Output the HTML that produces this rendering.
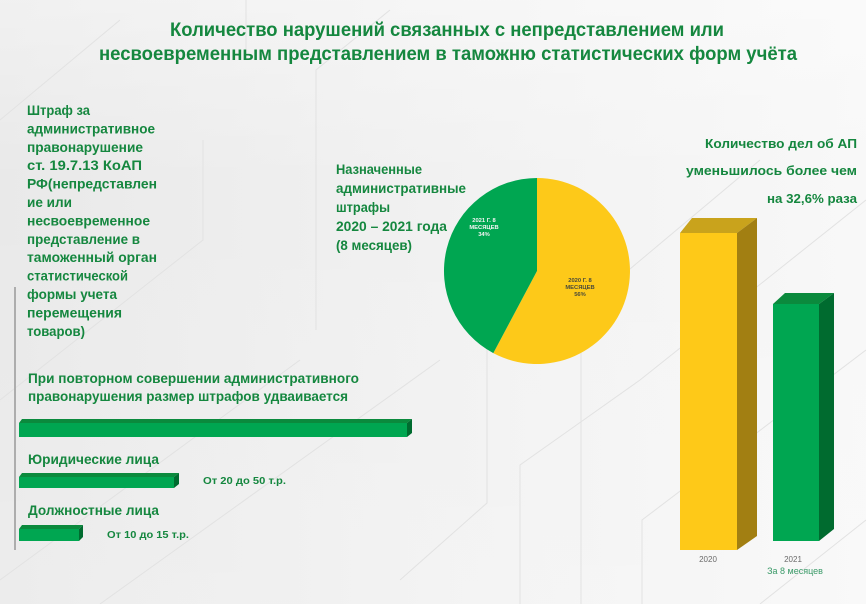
<!DOCTYPE html>
<html>
<head>
<meta charset="utf-8">
<style>
  html,body{margin:0;padding:0;}
  body{width:866px;height:604px;overflow:hidden;}
  svg{display:block;}
  text{font-family:"Liberation Sans","Noto Sans CJK SC",sans-serif;font-weight:bold;}
</style>
</head>
<body>
<svg width="866" height="604" viewBox="0 0 866 604" xmlns="http://www.w3.org/2000/svg">
  <defs>
    <linearGradient id="bg" x1="0" y1="0" x2="1" y2="0">
      <stop offset="0" stop-color="#e9e9e9"/>
      <stop offset="0.5" stop-color="#f1f1f1"/>
      <stop offset="1" stop-color="#f8f8f8"/>
    </linearGradient>
    <linearGradient id="bgv" x1="0" y1="0" x2="0" y2="1">
      <stop offset="0" stop-color="#ffffff" stop-opacity="0.35"/>
      <stop offset="0.3" stop-color="#ffffff" stop-opacity="0"/>
      <stop offset="1" stop-color="#ffffff" stop-opacity="0.15"/>
    </linearGradient>
  </defs>
  <rect x="0" y="0" width="866" height="604" fill="url(#bg)"/>
  <rect x="0" y="0" width="866" height="604" fill="url(#bgv)"/>

  <!-- faint background lines -->
  <g stroke="#e2e2e2" stroke-width="1" fill="none">
    <polyline points="487,340 487,503 400,580"/>
    <polyline points="520,604 520,465 640,380 866,200"/>
    <polyline points="581,604 581,310 760,160"/>
    <polyline points="642,604 642,520 866,350"/>
    <polyline points="203,140 203,240 0,400"/>
    <polyline points="246,60 246,0"/>
    <line x1="0" y1="580" x2="300" y2="360"/>
    <line x1="100" y1="604" x2="440" y2="360"/>
    <polyline points="316,330 316,70 390,10"/>
    <line x1="0" y1="120" x2="120" y2="20"/>
    <line x1="760" y1="604" x2="866" y2="520"/>
  </g>

  <!-- Title -->
  <g fill="#15873f" font-size="19">
    <text x="170" y="36" textLength="554" lengthAdjust="spacingAndGlyphs">Количество нарушений связанных с непредставлением или</text>
    <text x="99" y="60" textLength="698" lengthAdjust="spacingAndGlyphs">несвоевременным представлением в таможню статистических форм учёта</text>
  </g>

  <!-- Left vertical line -->
  <line x1="15" y1="287" x2="15" y2="550" stroke="#adadad" stroke-width="2"/>

  <!-- Left text block -->
  <g fill="#15873f" font-size="14">
    <text x="27" y="115" textLength="63" lengthAdjust="spacingAndGlyphs">Штраф за</text>
    <text x="27" y="133.4" textLength="128" lengthAdjust="spacingAndGlyphs">административное</text>
    <text x="27" y="151.8" textLength="116" lengthAdjust="spacingAndGlyphs">правонарушение</text>
    <text x="27" y="170.2" textLength="115" lengthAdjust="spacingAndGlyphs">ст. 19.7.13 КоАП</text>
    <text x="27" y="188.6" textLength="130" lengthAdjust="spacingAndGlyphs">РФ(непредставлен</text>
    <text x="27" y="207" textLength="45" lengthAdjust="spacingAndGlyphs">ие или</text>
    <text x="27" y="225.4" textLength="123" lengthAdjust="spacingAndGlyphs">несвоевременное</text>
    <text x="27" y="243.8" textLength="113" lengthAdjust="spacingAndGlyphs">представление в</text>
    <text x="27" y="262.2" textLength="130" lengthAdjust="spacingAndGlyphs">таможенный орган</text>
    <text x="27" y="280.6" textLength="101" lengthAdjust="spacingAndGlyphs">статистической</text>
    <text x="27" y="299" textLength="90" lengthAdjust="spacingAndGlyphs">формы учета</text>
    <text x="27" y="317.4" textLength="95" lengthAdjust="spacingAndGlyphs">перемещения</text>
    <text x="27" y="335.8" textLength="58" lengthAdjust="spacingAndGlyphs">товаров)</text>
  </g>

  <!-- Pie title -->
  <g fill="#15873f" font-size="13.5">
    <text x="336" y="174" textLength="86" lengthAdjust="spacingAndGlyphs">Назначенные</text>
    <text x="336" y="193" textLength="130" lengthAdjust="spacingAndGlyphs">административные</text>
    <text x="336" y="212" textLength="54" lengthAdjust="spacingAndGlyphs">штрафы</text>
    <text x="336" y="231" textLength="111" lengthAdjust="spacingAndGlyphs">2020 – 2021 года</text>
    <text x="336" y="250" textLength="76" lengthAdjust="spacingAndGlyphs">(8 месяцев)</text>
  </g>

  <!-- Pie -->
  <path d="M537,271 L537,178 A93,93 0 1,1 493.3,353.1 Z" fill="#fdc919"/>
  <path d="M537,271 L493.3,353.1 A93,93 0 0,1 537,178 Z" fill="#00a651"/>
  <g font-size="5.8" text-anchor="middle" fill="#f4f4f4">
    <text x="484" y="222">2021 Г. 8</text>
    <text x="484" y="229">МЕСЯЦЕВ</text>
    <text x="484" y="236">34%</text>
  </g>
  <g font-size="5.8" text-anchor="middle" fill="#4a4a3a">
    <text x="580" y="282">2020 Г. 8</text>
    <text x="580" y="289">МЕСЯЦЕВ</text>
    <text x="580" y="296">56%</text>
  </g>

  <!-- Right text -->
  <g fill="#15873f" font-size="13" text-anchor="end">
    <text x="857" y="148" textLength="152" lengthAdjust="spacingAndGlyphs">Количество дел  об АП</text>
    <text x="857" y="175" textLength="171" lengthAdjust="spacingAndGlyphs">уменьшилось более  чем</text>
    <text x="857" y="203" textLength="90" lengthAdjust="spacingAndGlyphs">на 32,6% раза</text>
  </g>

  <!-- Right 3D bars -->
  <!-- yellow -->
  <polygon points="680,233 737,233 757,218 692,218" fill="#c9a31c"/>
  <polygon points="737,233 757,218 757,536 737,550" fill="#a27f12"/>
  <rect x="680" y="233" width="57" height="317" fill="#fec918"/>
  <!-- green -->
  <polygon points="773,304 819,304 834,293 785,293" fill="#0b8a3d"/>
  <polygon points="819,304 834,293 834,529 819,541" fill="#006b2f"/>
  <rect x="773" y="304" width="46" height="237" fill="#00a651"/>

  <g font-size="8" text-anchor="middle" fill="#6a6a6a" style="font-weight:normal">
    <text x="708" y="562" style="font-weight:normal">2020</text>
    <text x="793" y="562" style="font-weight:normal">2021</text>
  </g>
  <text x="795" y="574" font-size="9" text-anchor="middle" fill="#3a9a68" style="font-weight:normal">За 8 месяцев</text>

  <!-- Bottom-left section -->
  <g fill="#15873f" font-size="14">
    <text x="28" y="383" textLength="331" lengthAdjust="spacingAndGlyphs">При повторном совершении административного</text>
    <text x="28" y="401" textLength="320" lengthAdjust="spacingAndGlyphs">правонарушения размер штрафов удваивается</text>
    <text x="28" y="464" textLength="131" lengthAdjust="spacingAndGlyphs">Юридические лица</text>
    <text x="28" y="515" textLength="131" lengthAdjust="spacingAndGlyphs">Должностные лица</text>
  </g>
  <g fill="#15873f" font-size="10.5">
    <text x="203" y="484" textLength="83" lengthAdjust="spacingAndGlyphs">От 20 до 50 т.р.</text>
    <text x="107" y="538" textLength="82" lengthAdjust="spacingAndGlyphs">От 10 до 15 т.р.</text>
  </g>

  <!-- horizontal 3D bars -->
  <!-- bar 1 -->
  <polygon points="19,423 22,419 412,419 407,423" fill="#0b8a3d"/>
  <polygon points="407,423 412,419 412,433 407,437" fill="#006b2f"/>
  <rect x="19" y="423" width="388" height="14" fill="#00a651"/>
  <!-- bar 2 -->
  <polygon points="19,477 22,473 179,473 174,477" fill="#0b8a3d"/>
  <polygon points="174,477 179,473 179,484 174,488" fill="#006b2f"/>
  <rect x="19" y="477" width="155" height="11" fill="#00a651"/>
  <!-- bar 3 -->
  <polygon points="19,529 22,525 83,525 79,529" fill="#0b8a3d"/>
  <polygon points="79,529 83,525 83,537 79,541" fill="#006b2f"/>
  <rect x="19" y="529" width="60" height="12" fill="#00a651"/>
</svg>
</body>
</html>
